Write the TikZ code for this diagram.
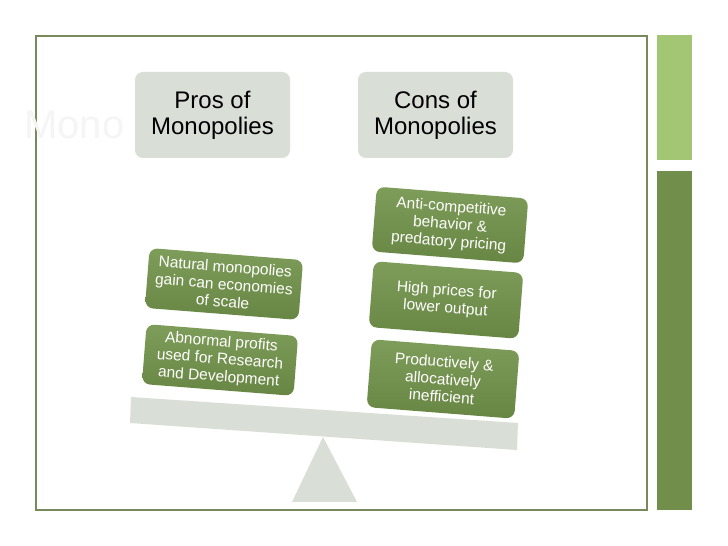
\documentclass[tikz,border=0pt]{standalone}
\usepackage{fontspec}
\setmainfont{Liberation Sans}
\definecolor{framec}{HTML}{788A5C}
\definecolor{lightbar}{HTML}{A3C675}
\definecolor{darkbar}{HTML}{718E4B}
\definecolor{paleg}{HTML}{D9DED6}
\definecolor{gtop}{HTML}{7E9D5A}
\definecolor{gbot}{HTML}{688643}
\begin{document}
\begin{tikzpicture}[x=1pt,y=1pt,
  headbox/.style={fill=paleg, rounded corners=8pt, minimum width=155pt, minimum height=86pt,
    align=center, text=black, font=\fontsize{24}{26}\selectfont, inner sep=0pt},
  greenbox/.style={top color=gtop, bottom color=gbot, draw=none, rounded corners=8pt,
    align=center, text=white, font=\fontsize{15.5}{17.5}\selectfont, inner sep=0pt, rotate=-4.5},
  ground/.style={fill=paleg, draw=none}]
\useasboundingbox (0,0) rectangle (728,546);
\fill[white] (0,0) rectangle (728,546);
% frame and side bars
\draw[framec, line width=2.5pt] (36,510) rectangle (647,36);
\fill[lightbar] (657,511) rectangle (692,385.5);
\fill[darkbar] (657,375) rectangle (692,35.5);
% faint title
\node[anchor=west, text=white!96!black, font=\fontsize{40}{44}\selectfont, inner sep=0pt] (title) at (24,421) {Mono};
% heading boxes
\node[headbox] (pros) at (212.5,431) {Pros of\\Monopolies};
\node[headbox] (cons) at (435.5,431) {Cons of\\Monopolies};
% balance
\fill[ground] (131,149) -- (518,123) -- (517,96) -- (130,123) -- cycle;
\fill[ground] (323,109) -- (357,44) -- (292,44) -- cycle;
% pros items
\node[greenbox, minimum width=154pt, minimum height=60pt] (nat) at (224,262) {Natural monopolies\\gain can economies\\of scale};
\node[greenbox, minimum width=152pt, minimum height=60pt] (abn) at (220,186) {Abnormal profits\\used for Research\\and Development};
% cons items
\node[greenbox, minimum width=152pt, minimum height=65pt] (anti) at (450,321) {Anti-competitive\\behavior \&\\predatory pricing};
\node[greenbox, minimum width=150pt, minimum height=66pt] (high) at (446,246) {High prices for\\lower output};
\node[greenbox, minimum width=148pt, minimum height=68pt] (prod) at (443,167) {Productively \&\\allocatively\\inefficient};
\end{tikzpicture}
\end{document}
